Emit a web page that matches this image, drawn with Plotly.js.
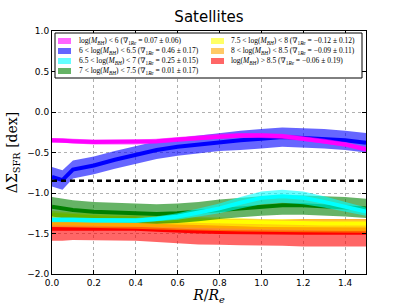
<!DOCTYPE html>
<html>
<head>
<meta charset="utf-8">
<script src="https://cdn.plot.ly/plotly-3.0.1.min.js"></script>
<style>html,body{margin:0;padding:0;background:#fff}#chart{width:407px;height:305px}</style>
</head>
<body>
<div id="chart"></div>
<script>
// ---- data ----
const radius = [0, 0.05, 0.1, 0.2, 0.3, 0.4, 0.5, 0.6, 0.7, 0.8, 0.9, 1.0, 1.1, 1.2, 1.3, 1.4, 1.5];

const bin1Mean = [-0.35,-0.35,-0.36,-0.37,-0.37,-0.37,-0.36,-0.34,-0.32,-0.30,-0.29,-0.29,-0.30,-0.33,-0.36,-0.40,-0.46];
const bin1Err  = [0.03,0.03,0.03,0.03,0.03,0.03,0.03,0.03,0.03,0.03,0.03,0.03,0.03,0.03,0.03,0.03,0.03];
const bin2Mean = [-0.80,-0.84,-0.71,-0.66,-0.59,-0.53,-0.47,-0.43,-0.40,-0.37,-0.35,-0.33,-0.31,-0.32,-0.33,-0.35,-0.38];
const bin2Err  = [0.12,0.12,0.11,0.11,0.11,0.11,0.11,0.11,0.11,0.11,0.12,0.12,0.12,0.12,0.12,0.12,0.12];
const bin3Mean = [-1.33,-1.33,-1.33,-1.34,-1.34,-1.34,-1.32,-1.29,-1.24,-1.19,-1.12,-1.06,-1.04,-1.06,-1.11,-1.17,-1.23];
const bin3Err  = [0.03,0.03,0.03,0.03,0.03,0.03,0.03,0.04,0.05,0.06,0.07,0.08,0.08,0.08,0.07,0.06,0.05];
const bin4Mean = [-1.17,-1.19,-1.21,-1.23,-1.24,-1.25,-1.26,-1.25,-1.23,-1.20,-1.18,-1.16,-1.15,-1.15,-1.16,-1.17,-1.19];
const bin4Err  = [0.12,0.12,0.12,0.12,0.12,0.12,0.12,0.12,0.12,0.12,0.12,0.12,0.12,0.12,0.12,0.12,0.12];
const bin5Mean = [-1.27,-1.28,-1.29,-1.30,-1.31,-1.325,-1.33,-1.34,-1.345,-1.35,-1.36,-1.37,-1.37,-1.37,-1.375,-1.375,-1.375];
const bin5Err  = [0.05,0.05,0.05,0.05,0.05,0.05,0.05,0.05,0.05,0.05,0.05,0.05,0.05,0.05,0.05,0.05,0.05];
const bin6Mean = [-1.37,-1.375,-1.375,-1.38,-1.385,-1.39,-1.40,-1.41,-1.415,-1.42,-1.425,-1.43,-1.43,-1.435,-1.44,-1.44,-1.44];
const bin6Err  = [0.05,0.05,0.05,0.05,0.05,0.05,0.05,0.05,0.05,0.05,0.05,0.05,0.05,0.05,0.05,0.05,0.05];
const bin7Mean = [-1.44,-1.44,-1.43,-1.43,-1.435,-1.44,-1.455,-1.47,-1.475,-1.48,-1.485,-1.49,-1.49,-1.49,-1.49,-1.49,-1.49];
const bin7Err  = [0.15,0.15,0.15,0.15,0.15,0.15,0.15,0.15,0.16,0.16,0.16,0.16,0.16,0.17,0.17,0.17,0.17];

const refLevel = -0.85;
const refX = [0, 1.5];

const binLabels = [
  "log(<i>M</i><sub><i>BH</i></sub>) &lt; 6 (∇<sub>1<i>Re</i></sub> = 0.07 ± 0.06)",
  "6 &lt; log(<i>M</i><sub><i>BH</i></sub>) &lt; 6.5 (∇<sub>1<i>Re</i></sub> = 0.46 ± 0.17)",
  "6.5 &lt; log(<i>M</i><sub><i>BH</i></sub>) &lt; 7 (∇<sub>1<i>Re</i></sub> = 0.25 ± 0.15)",
  "7 &lt; log(<i>M</i><sub><i>BH</i></sub>) &lt; 7.5 (∇<sub>1<i>Re</i></sub> = 0.01 ± 0.17)",
  "7.5 &lt; log(<i>M</i><sub><i>BH</i></sub>) &lt; 8 (∇<sub>1<i>Re</i></sub> = −0.12 ± 0.12)",
  "8 &lt; log(<i>M</i><sub><i>BH</i></sub>) &lt; 8.5 (∇<sub>1<i>Re</i></sub> = −0.09 ± 0.11)",
  "log(<i>M</i><sub><i>BH</i></sub>) &gt; 8.5 (∇<sub>1<i>Re</i></sub> = −0.06 ± 0.19)"
];
const lineColors = ["#ff00ff","#0000ff","#00ffff","#008000","#ffff00","#ffa500","#ff0000"];
const bandColors = ["rgba(255,0,255,0.6)","rgba(0,0,255,0.6)","rgba(0,255,255,0.6)","rgba(0,128,0,0.6)",
                    "rgba(255,255,0,0.6)","rgba(255,165,0,0.6)","rgba(255,0,0,0.6)"];
const means = [bin1Mean,bin2Mean,bin3Mean,bin4Mean,bin5Mean,bin6Mean,bin7Mean];
const errs  = [bin1Err,bin2Err,bin3Err,bin4Err,bin5Err,bin6Err,bin7Err];

// ---- traces ----
const traces = [];
const drawOrder = [6,5,4,3,2,1,0];
drawOrder.forEach(i => {
  const up = means[i].map((v,k) => v + errs[i][k]);
  const lo = means[i].map((v,k) => v - errs[i][k]);
  traces.push({
    x: radius.concat(radius.slice().reverse()),
    y: up.concat(lo.slice().reverse()),
    type: "scatter", mode: "lines", fill: "toself",
    fillcolor: bandColors[i], line: {width: 0, color: bandColors[i]},
    hoverinfo: "skip", showlegend: false
  });
  traces.push({
    x: radius, y: means[i], type: "scatter", mode: "lines",
    line: {color: lineColors[i], width: 4}, showlegend: false
  });
});
traces.push({
  x: refX, y: refX.map(() => refLevel), type: "scatter", mode: "lines",
  line: {color: "black", width: 2.5, dash: "5px,4px"}, showlegend: false
});

// ---- manual legend (two columns) ----
const plotL = 52, plotR = 366, plotT = 31, plotB = 274;
const px2x = p => (p - plotL) / (plotR - plotL);
const px2y = p => (plotB - p) / (plotB - plotT);
const shapes = [{
  type: "rect", xref: "paper", yref: "paper",
  x0: px2x(55), x1: px2x(362), y0: px2y(78), y1: px2y(33),
  line: {color: "black", width: 1}, fillcolor: "white", layer: "above"
}];
const annotations = [];
const colSpec = [{sw: 58, tx: 77}, {sw: 211, tx: 229}];
binLabels.forEach((lab, i) => {
  const col = i < 4 ? 0 : 1;
  const row = i < 4 ? i : i - 4;
  const cy = 41 + row * 10;
  shapes.push({
    type: "rect", xref: "paper", yref: "paper",
    x0: px2x(colSpec[col].sw), x1: px2x(colSpec[col].sw + 13),
    y0: px2y(cy + 3), y1: px2y(cy - 3),
    line: {width: 0}, fillcolor: bandColors[i], layer: "above"
  });
  annotations.push({
    xref: "paper", yref: "paper", x: px2x(colSpec[col].tx), y: px2y(cy),
    xanchor: "left", yanchor: "middle", showarrow: false, text: lab,
    font: {family: "Liberation Serif, DejaVu Serif, serif", size: 7.5, color: "black"}
  });
});

const layout = {
  width: 407, height: 305,
  margin: {l: plotL, r: 407 - plotR, t: plotT, b: 305 - plotB, pad: 0},
  paper_bgcolor: "white", plot_bgcolor: "white",
  showlegend: false,
  title: {text: "Satellites", x: 0.5 * (plotL + plotR) / 407, xanchor: "center",
          y: 1 - 17 / 305, yref: "container", yanchor: "middle",
          font: {family: "DejaVu Sans, sans-serif", size: 15, color: "black"}},
  xaxis: {
    range: [0, 1.5], tickvals: [0,0.2,0.4,0.6,0.8,1.0,1.2,1.4], tickformat: ".1f",
    ticks: "inside", ticklen: 4, tickcolor: "black", mirror: "ticks",
    showline: true, linecolor: "black", linewidth: 1,
    showgrid: true, gridcolor: "#b0b0b0", griddash: "dot", gridwidth: 1, zeroline: false,
    tickfont: {family: "DejaVu Sans, sans-serif", size: 9, color: "black"},
    automargin: false,
    title: {text: "<i>R</i>/<i>R</i><sub><i>e</i></sub>", standoff: 6,
            font: {family: "DejaVu Serif, serif", size: 14, color: "black"}}
  },
  yaxis: {
    range: [-2, 1], tickvals: [-2,-1.5,-1,-0.5,0,0.5,1], tickformat: ".1f",
    ticks: "inside", ticklen: 4, tickcolor: "black", mirror: "ticks",
    showline: true, linecolor: "black", linewidth: 1,
    showgrid: true, gridcolor: "#b0b0b0", griddash: "dot", gridwidth: 1, zeroline: false,
    tickfont: {family: "DejaVu Sans, sans-serif", size: 9, color: "black"},
    automargin: false,
    title: {text: "ΔΣ<sub>SFR</sub> [dex]", standoff: 6,
            font: {family: "DejaVu Serif, serif", size: 14, color: "black"}}
  },
  shapes: shapes,
  annotations: annotations
};

Plotly.newPlot("chart", traces, layout, {staticPlot: true, displayModeBar: false});
</script>
</body>
</html>
